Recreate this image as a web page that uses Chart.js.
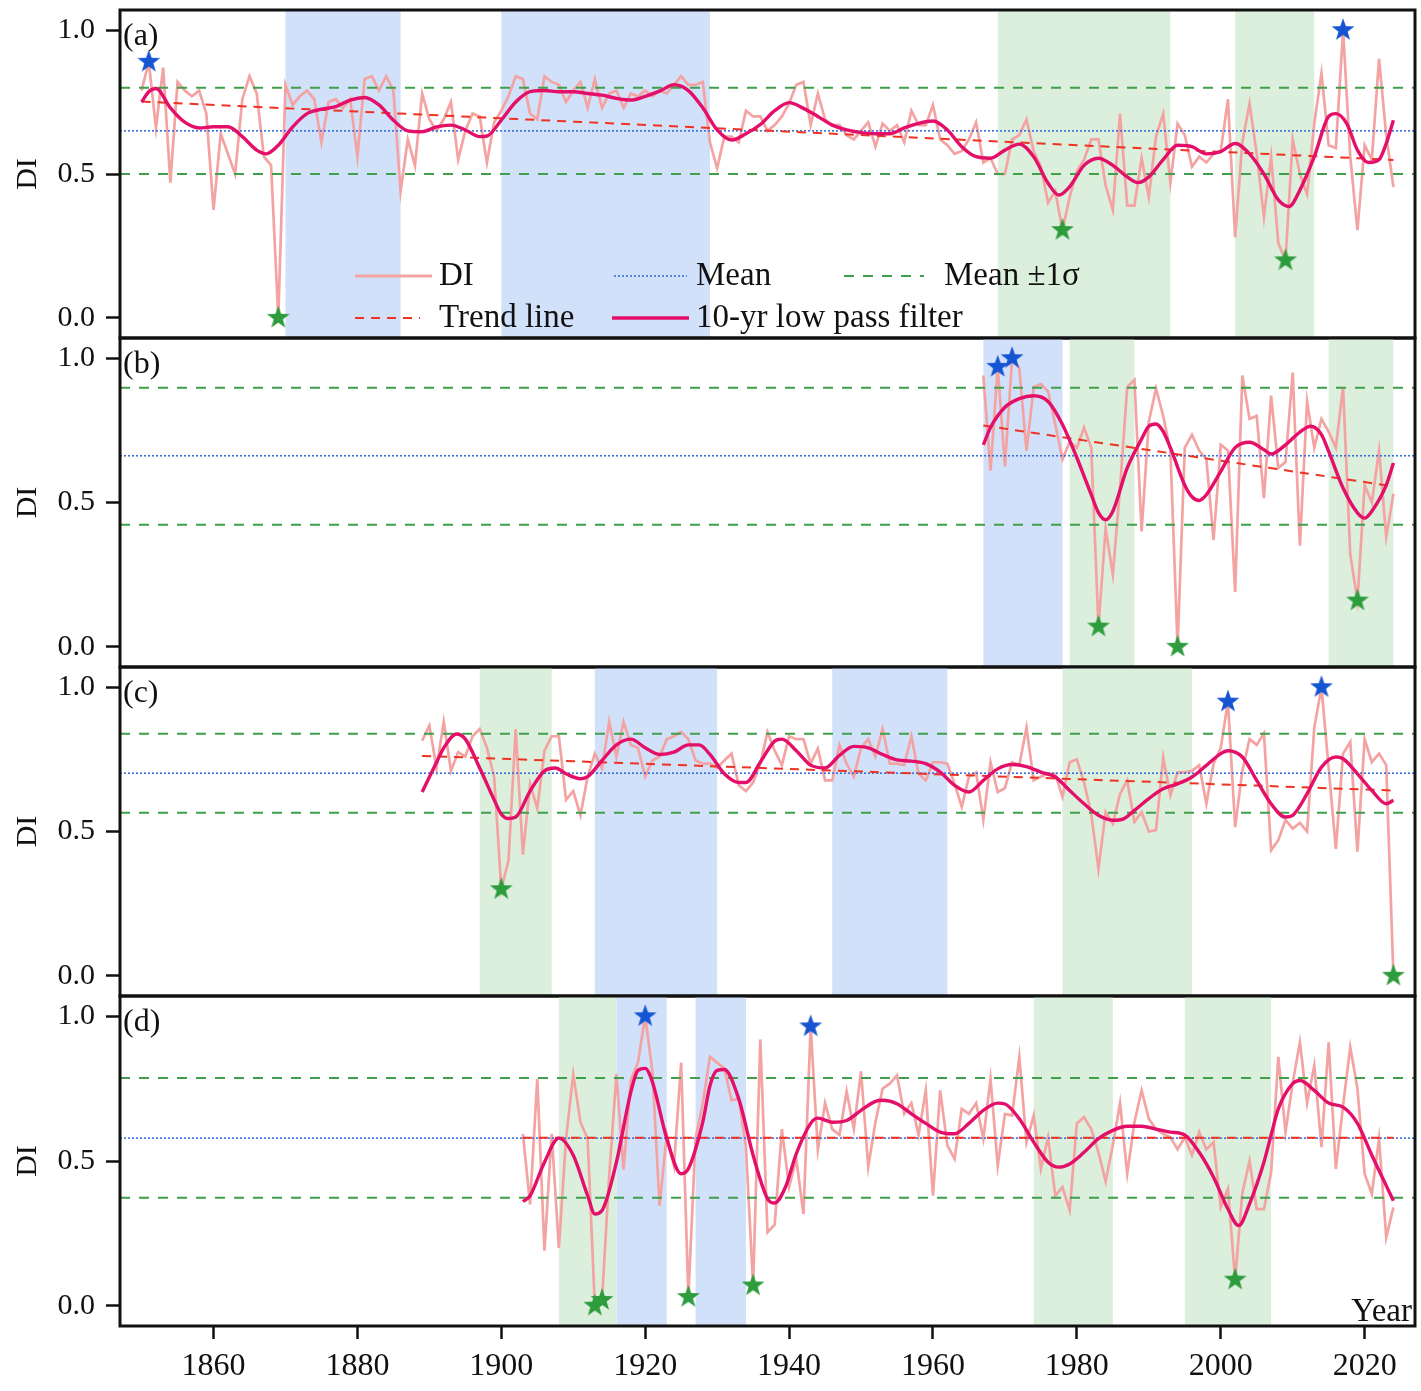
<!DOCTYPE html>
<html lang="en">
<head>
<meta charset="UTF-8">
<title>DI time series</title>
<style>
    html, body { margin: 0; padding: 0; background: #fff; }
    body { width: 1421px; height: 1391px; position: relative; overflow: hidden; }
    .panel { position: absolute; left: 0; width: 1421px; }
</style>
</head>
<body>
<div class="panel" style="top:0;height:343px"><canvas id="chartA"></canvas></div>
<div class="panel" style="top:333px;height:339px"><canvas id="chartB"></canvas></div>
<div class="panel" style="top:662px;height:339px"><canvas id="chartC"></canvas></div>
<div class="panel" style="top:991px;height:400px"><canvas id="chartD"></canvas></div>

<script src="https://cdn.jsdelivr.net/npm/chart.js"></script>
<script>
const X_MIN = 1847, X_MAX = 2027;
const xTicks = [1860, 1880, 1900, 1920, 1940, 1960, 1980, 2000, 2020];
const yTicks = [0, 0.5, 1.0];

// ---- (a) ----
const startA = 1850;
const diA = [
    0.79, 0.89, 0.66, 0.87, 0.47, 0.82, 0.79, 0.77, 0.79, 0.71,
    0.375, 0.64, 0.57, 0.50, 0.76, 0.84, 0.78, 0.56, 0.53, 0.0,
    0.81, 0.74, 0.77, 0.79, 0.76, 0.61, 0.75, 0.76, 0.73, 0.76,
    0.56, 0.83, 0.84, 0.79, 0.84, 0.79, 0.44, 0.62, 0.53, 0.78,
    0.69, 0.65, 0.69, 0.75, 0.55, 0.65, 0.71, 0.70, 0.54, 0.68,
    0.72, 0.77, 0.84, 0.83, 0.71, 0.69, 0.84, 0.82, 0.81, 0.75,
    0.79, 0.82, 0.73, 0.83, 0.73, 0.78, 0.79, 0.73, 0.78, 0.77,
    0.79, 0.77, 0.79, 0.78, 0.81, 0.84, 0.81, 0.81, 0.82, 0.61,
    0.52, 0.63, 0.63, 0.61, 0.72, 0.70, 0.70, 0.65, 0.67, 0.70,
    0.745, 0.81, 0.82, 0.67, 0.78, 0.69, 0.67, 0.67, 0.635, 0.62,
    0.65, 0.68, 0.595, 0.675, 0.65, 0.67, 0.61, 0.72, 0.67, 0.67,
    0.74, 0.62, 0.60, 0.57, 0.58, 0.62, 0.68, 0.54, 0.555, 0.50,
    0.50, 0.62, 0.635, 0.69, 0.58, 0.525, 0.40, 0.44, 0.305, 0.42,
    0.51, 0.55, 0.62, 0.62, 0.46, 0.375, 0.71, 0.39, 0.39, 0.555,
    0.42, 0.63, 0.71, 0.47, 0.675, 0.635, 0.525, 0.56, 0.54, 0.57,
    0.58, 0.76, 0.28, 0.61, 0.745, 0.57, 0.35, 0.56, 0.26, 0.20,
    0.62, 0.50, 0.43, 0.675, 0.85, 0.60, 0.59, 1.0, 0.56, 0.305,
    0.60, 0.55, 0.90, 0.635, 0.455
];
const filtYearsA = [1850, 1851, 1852, 1854, 1856, 1858, 1860, 1862, 1864, 1866, 1867.3, 1869, 1871, 1873, 1875,
    1877, 1879, 1881, 1883, 1885, 1887, 1889, 1891, 1893, 1895, 1897, 1898, 1900, 1902, 1904, 1906, 1908, 1910,
    1912, 1914, 1916, 1918, 1920, 1922, 1924, 1926, 1928, 1930, 1932, 1934, 1936, 1938, 1940, 1942, 1944, 1946,
    1948, 1950, 1952, 1954, 1956, 1958, 1960, 1962, 1964, 1966, 1968, 1970, 1972, 1974, 1976, 1977.5, 1979, 1981,
    1983, 1985, 1987, 1988.5, 1990, 1992, 1994, 1996, 1998, 2000, 2002, 2004, 2006, 2008, 2009.5, 2011, 2013,
    2015, 2016, 2017.5, 2019, 2020.5, 2022, 2023, 2024];
const filtA = [0.75, 0.786, 0.797, 0.73, 0.68, 0.66, 0.664, 0.664, 0.63, 0.583, 0.57, 0.60, 0.664, 0.71, 0.725,
    0.734, 0.757, 0.766, 0.74, 0.687, 0.65, 0.647, 0.664, 0.67, 0.653, 0.63, 0.632, 0.687, 0.75, 0.786, 0.79, 0.786, 0.786,
    0.78, 0.774, 0.763, 0.757, 0.77, 0.788, 0.81, 0.79, 0.73, 0.653, 0.618, 0.64, 0.672, 0.72, 0.748, 0.728, 0.70, 0.67,
    0.653, 0.644, 0.64, 0.64, 0.66, 0.676, 0.684, 0.653, 0.595, 0.56, 0.555, 0.583, 0.604, 0.56, 0.468, 0.427, 0.456, 0.53,
    0.555, 0.53, 0.49, 0.47, 0.49, 0.55, 0.60, 0.595, 0.57, 0.578, 0.606, 0.57, 0.50, 0.41, 0.387, 0.444, 0.56,
    0.70, 0.71, 0.676, 0.583, 0.54, 0.55, 0.606, 0.687];
const trendA = [0.752, 0.549];
const meanA = 0.65, upperA = 0.80, lowerA = 0.50;
const highPeriodsA = [[1870, 1886], [1900, 1929]];
const lowPeriodsA = [[1969, 1993], [2002, 2013]];
const maxYearsA = [1851, 2017];
const minYearsA = [1869, 1978, 2009];

// ---- (b) ----
const startB = 1967;
const diB = [
    0.94, 0.61, 0.97, 0.625, 1.0, 0.965, 0.68, 0.90, 0.91, 0.885,
    0.77, 0.65, 0.71, 0.69, 0.76, 0.69, 0.07, 0.41, 0.25, 0.55,
    0.90, 0.925, 0.40, 0.78, 0.895, 0.80, 0.68, 0.0, 0.69, 0.735,
    0.68, 0.65, 0.37, 0.70, 0.68, 0.19, 0.94, 0.79, 0.80, 0.515,
    0.87, 0.62, 0.64, 0.95, 0.35, 0.85, 0.69, 0.79, 0.745, 0.69,
    0.90, 0.32, 0.16, 0.56, 0.50, 0.68, 0.38, 0.53
];
const filtYearsB = [1967, 1968, 1970, 1972, 1974, 1976, 1978, 1980, 1982, 1983, 1984, 1985, 1987, 1989, 1990,
    1991, 1992, 1993, 1995, 1996, 1997, 1998, 2000, 2002, 2004, 2006, 2007, 2009, 2011, 2012.5, 2014, 2015,
    2017, 2019, 2020, 2021, 2023, 2024];
const filtB = [0.70, 0.76, 0.83, 0.86, 0.87, 0.85, 0.77, 0.655, 0.527, 0.465, 0.44, 0.47, 0.62, 0.72, 0.764,
    0.772, 0.746, 0.69, 0.56, 0.52, 0.507, 0.527, 0.608, 0.69, 0.709, 0.683, 0.668, 0.70, 0.744, 0.764, 0.735, 0.677,
    0.55, 0.464, 0.446, 0.47, 0.56, 0.637];
const trendB = [0.767, 0.556];
const meanB = 0.662, upperB = 0.898, lowerB = 0.423;
const highPeriodsB = [[1967, 1978]];
const lowPeriodsB = [[1979, 1988], [2015, 2024]];
const maxYearsB = [1969, 1971];
const minYearsB = [1983, 1994, 2019];

// ---- (c) ----
const startC = 1889;
const diC = [
    0.815, 0.867, 0.72, 0.88, 0.71, 0.775, 0.76, 0.83, 0.855, 0.79,
    0.69, 0.30, 0.40, 0.855, 0.42, 0.665, 0.58, 0.78, 0.83, 0.83,
    0.61, 0.64, 0.556, 0.69, 0.77, 0.72, 0.88, 0.76, 0.88, 0.80,
    0.79, 0.69, 0.746, 0.76, 0.82, 0.83, 0.845, 0.82, 0.746, 0.735,
    0.735, 0.72, 0.746, 0.77, 0.66, 0.64, 0.67, 0.735, 0.845, 0.78,
    0.73, 0.83, 0.82, 0.82, 0.735, 0.787, 0.677, 0.677, 0.80, 0.735,
    0.69, 0.79, 0.82, 0.76, 0.855, 0.735, 0.735, 0.73, 0.83, 0.70,
    0.677, 0.74, 0.74, 0.735, 0.665, 0.585, 0.69, 0.705, 0.54, 0.74,
    0.637, 0.65, 0.74, 0.73, 0.86, 0.677, 0.69, 0.70, 0.70, 0.62,
    0.74, 0.75, 0.67, 0.56, 0.37, 0.567, 0.527, 0.63, 0.677, 0.533,
    0.567, 0.50, 0.505, 0.757, 0.625, 0.705, 0.705, 0.71, 0.73, 0.596,
    0.735, 0.79, 0.95, 0.515, 0.71, 0.82, 0.80, 0.84, 0.435, 0.47,
    0.54, 0.51, 0.53, 0.50, 0.86, 1.0, 0.72, 0.44, 0.77, 0.81,
    0.43, 0.82, 0.74, 0.77, 0.73, 0.0
];
const filtYearsC = [1889, 1891, 1892, 1893.8, 1895, 1897, 1899, 1900, 1901, 1902, 1904, 1906, 1907.5, 1909, 1911,
    1912, 1914, 1916, 1918, 1920, 1922, 1924, 1926, 1927.5, 1929, 1931, 1933, 1934, 1936, 1938, 1939, 1941, 1943,
    1945, 1947, 1949, 1951, 1953, 1955, 1957, 1959, 1961, 1963, 1965, 1967, 1969, 1971, 1973, 1975, 1977, 1979,
    1981, 1983, 1985, 1986.5, 1988, 1990, 1992, 1994, 1996, 1998, 2000, 2001, 2003, 2005, 2007, 2009, 2010,
    2012, 2014, 2016, 2017, 2019, 2021, 2023, 2024];
const filtC = [0.637, 0.74, 0.79, 0.838, 0.82, 0.72, 0.61, 0.56, 0.545, 0.55, 0.64, 0.71, 0.72, 0.70, 0.683,
    0.69, 0.746, 0.80, 0.82, 0.79, 0.767, 0.775, 0.80, 0.80, 0.767, 0.70, 0.67, 0.67, 0.74, 0.813, 0.82, 0.78, 0.73,
    0.72, 0.764, 0.795, 0.79, 0.767, 0.748, 0.744, 0.735, 0.706, 0.66, 0.637, 0.677, 0.717, 0.732, 0.725, 0.706, 0.689, 0.642,
    0.596, 0.556, 0.539, 0.544, 0.573, 0.614, 0.648, 0.665, 0.689, 0.729, 0.77, 0.78, 0.758, 0.677, 0.596, 0.55, 0.556,
    0.631, 0.723, 0.758, 0.752, 0.70, 0.642, 0.596, 0.608];
const trendC = [0.762, 0.642];
const meanC = 0.702, upperC = 0.839, lowerC = 0.565;
const highPeriodsC = [[1913, 1930], [1946, 1962]];
const lowPeriodsC = [[1897, 1907], [1978, 1996]];
const maxYearsC = [2001, 2014];
const minYearsC = [1900, 2024];

// ---- (d) ----
const startD = 1903;
const diD = [
    0.594, 0.35, 0.784, 0.19, 0.594, 0.20, 0.577, 0.80, 0.634, 0.577,
    0.0, 0.02, 0.45, 0.80, 0.47, 0.78, 0.84, 1.0, 0.81, 0.346,
    0.59, 0.484, 0.84, 0.03, 0.577, 0.70, 0.86, 0.84, 0.82, 0.71,
    0.715, 0.55, 0.07, 0.92, 0.254, 0.28, 0.61, 0.41, 0.507, 0.317,
    0.965, 0.54, 0.70, 0.61, 0.59, 0.74, 0.61, 0.81, 0.48, 0.634,
    0.75, 0.767, 0.796, 0.663, 0.70, 0.59, 0.744, 0.38, 0.744, 0.554,
    0.507, 0.68, 0.663, 0.70, 0.577, 0.784, 0.484, 0.663, 0.657, 0.86,
    0.565, 0.657, 0.473, 0.582, 0.38, 0.41, 0.33, 0.63, 0.652, 0.61,
    0.53, 0.43, 0.554, 0.70, 0.456, 0.634, 0.744, 0.646, 0.61, 0.594,
    0.582, 0.54, 0.582, 0.52, 0.60, 0.54, 0.565, 0.34, 0.404, 0.09,
    0.39, 0.50, 0.334, 0.334, 0.46, 0.86, 0.60, 0.77, 0.91, 0.70,
    0.83, 0.548, 0.91, 0.473, 0.69, 0.894, 0.75, 0.456, 0.386, 0.577,
    0.236, 0.34
];
const filtYearsD = [1903, 1904, 1906, 1908, 1910, 1912, 1913, 1914, 1916, 1918, 1919, 1920, 1921, 1923, 1925,
    1926, 1928, 1929, 1930, 1931, 1933, 1935, 1937, 1938, 1939.5, 1941, 1943, 1944, 1946, 1948, 1950, 1952, 1953,
    1955, 1957, 1959, 1961, 1963, 1965, 1967, 1969, 1970, 1972, 1974, 1976, 1977.5, 1979, 1981, 1983, 1985, 1987,
    1989, 1991, 1993, 1995, 1997, 1999, 2001, 2002.5, 2004, 2006, 2007, 2008, 2010, 2011, 2013, 2015, 2017, 2019,
    2021, 2023, 2024];
const filtD = [0.36, 0.38, 0.496, 0.579, 0.52, 0.38, 0.317, 0.329, 0.496, 0.738, 0.813, 0.82, 0.773, 0.577, 0.456,
    0.473, 0.634, 0.76, 0.813, 0.816, 0.715, 0.52, 0.37, 0.355, 0.41, 0.525, 0.63, 0.648, 0.634, 0.64, 0.675, 0.706, 0.71,
    0.698, 0.663, 0.63, 0.60, 0.594, 0.63, 0.675, 0.70, 0.697, 0.646, 0.565, 0.496, 0.479, 0.49, 0.53, 0.577, 0.606, 0.62,
    0.62, 0.61, 0.60, 0.59, 0.53, 0.444, 0.334, 0.277, 0.352, 0.496, 0.59, 0.68, 0.767, 0.778, 0.744, 0.70, 0.686, 0.63,
    0.52, 0.415, 0.363];
const trendD = [0.58, 0.58];
const meanD = 0.579, upperD = 0.787, lowerD = 0.373;
const highPeriodsD = [[1916, 1923], [1927, 1934]];
const lowPeriodsD = [[1908, 1916], [1974, 1985], [1995, 2007]];
const maxYearsD = [1920, 1943];
const minYearsD = [1913, 1914, 1926, 1935, 2002];

const SERIF = "'Liberation Serif', 'Times New Roman', serif";
Chart.defaults.font.family = SERIF;
Chart.defaults.color = '#000';

const DI_COLOR = '#f4a3a3';
const FILT_COLOR = '#e30f68';
const TREND_COLOR = '#ee3322';
const MEAN_COLOR = '#3a6fd8';
const SIGMA_COLOR = '#3f9f4a';

function starImage(color) {
    const c = document.createElement('canvas');
    c.width = 26; c.height = 26;
    const g = c.getContext('2d');
    g.beginPath();
    for (let i = 0; i < 10; i++) {
        const r = i % 2 ? 4.8 : 12;
        const a = -Math.PI / 2 + i * Math.PI / 5;
        g.lineTo(13 + r * Math.cos(a), 13 + r * Math.sin(a));
    }
    g.closePath();
    g.fillStyle = color;
    g.fill();
    return c;
}
const blueStar = starImage('#1554d2');
const greenStar = starImage('#2c9c3c');

// shaded periods behind the curves
const bandsPlugin = {
    id: 'bands',
    beforeDatasetsDraw(chart, args, opts) {
        const {ctx, chartArea: a, scales: {x}} = chart;
        ctx.save();
        const fill = (list, color) => list.forEach(([s, e]) => {
            const x0 = x.getPixelForValue(s), x1 = x.getPixelForValue(e);
            ctx.fillStyle = color;
            ctx.fillRect(x0, a.top, x1 - x0, a.bottom - a.top);
        });
        fill(opts.high, '#d2e1fa');
        fill(opts.low, '#dcefdc');
        ctx.restore();
    }
};

function legendLine(ctx, x0, x1, y, color, width, dash) {
    ctx.beginPath();
    ctx.setLineDash(dash);
    ctx.strokeStyle = color;
    ctx.lineWidth = width;
    ctx.moveTo(x0, y);
    ctx.lineTo(x1, y);
    ctx.stroke();
    ctx.setLineDash([]);
}

// frame, panel letter, legend and "Year"
const framePlugin = {
    id: 'frame',
    afterDraw(chart, args, opts) {
        const {ctx, chartArea: a} = chart;
        ctx.save();
        ctx.strokeStyle = '#111';
        ctx.lineWidth = 3;
        ctx.strokeRect(a.left, a.top, a.right - a.left, a.bottom - a.top);

        ctx.fillStyle = '#111';
        ctx.font = '32px ' + SERIF;
        ctx.textBaseline = 'middle';
        ctx.textAlign = 'left';
        ctx.fillText(opts.label, a.left + 3, a.top + 27);

        if (opts.legend) {
            ctx.font = '33px ' + SERIF;
            legendLine(ctx, 355, 432, 276, DI_COLOR, 2.8, []);
            ctx.fillText('DI', 439, 276);
            legendLine(ctx, 614, 687, 276, MEAN_COLOR, 1.6, [2, 2]);
            ctx.fillText('Mean', 696, 276);
            legendLine(ctx, 844, 924, 276, SIGMA_COLOR, 2, [10, 9]);
            ctx.fillText('Mean \u00b11\u03c3', 944, 276);
            legendLine(ctx, 355, 420, 318, TREND_COLOR, 2, [9, 7]);
            ctx.fillText('Trend line', 439, 318);
            legendLine(ctx, 612, 689, 318, FILT_COLOR, 3.4, []);
            ctx.fillText('10-yr low pass filter', 696, 318);
        }
        if (opts.year) {
            ctx.font = '33px ' + SERIF;
            ctx.textAlign = 'right';
            ctx.textBaseline = 'alphabetic';
            ctx.fillText('Year', a.right - 3, a.bottom - 5);
        }
        ctx.restore();
    }
};

function makePanel(id, p) {
    const endYear = p.start + p.di.length - 1;
    const diPts = p.di.map((v, i) => ({x: p.start + i, y: v}));
    const filtPts = p.filtYears.map((yr, i) => ({x: yr, y: p.filt[i]}));
    const trendPts = [{x: p.start, y: p.trend[0]}, {x: endYear, y: p.trend[1]}];
    const hline = v => [{x: X_MIN, y: v}, {x: X_MAX, y: v}];
    const starPts = yrs => yrs.map(yr => ({x: yr, y: p.di[yr - p.start]}));
    const plain = {pointRadius: 0, pointHoverRadius: 0, fill: false};

    new Chart(document.getElementById(id), {
        type: 'line',
        data: {
            datasets: [
                {data: starPts(p.maxYears), showLine: false, pointStyle: blueStar, pointRadius: 12, order: 0},
                {data: starPts(p.minYears), showLine: false, pointStyle: greenStar, pointRadius: 12, order: 0},
                {data: filtPts, borderColor: FILT_COLOR, borderWidth: 3.4, cubicInterpolationMode: 'monotone', order: 1, ...plain},
                {data: trendPts, borderColor: TREND_COLOR, borderWidth: 2, borderDash: [9, 7], order: 2, ...plain},
                {data: hline(p.mean), borderColor: MEAN_COLOR, borderWidth: 1.6, borderDash: [2, 2], order: 3, ...plain},
                {data: hline(p.upper), borderColor: SIGMA_COLOR, borderWidth: 2, borderDash: [10, 9], order: 4, ...plain},
                {data: hline(p.lower), borderColor: SIGMA_COLOR, borderWidth: 2, borderDash: [10, 9], order: 4, ...plain},
                {data: diPts, borderColor: DI_COLOR, borderWidth: 2.7, tension: 0, order: 5, ...plain}
            ]
        },
        options: {
            responsive: true,
            maintainAspectRatio: false,
            animation: false,
            events: [],
            layout: {autoPadding: false, padding: {top: p.padTop, bottom: p.padBottom, left: 0, right: 6}},
            plugins: {
                legend: {display: false},
                tooltip: {enabled: false},
                bands: {high: p.high, low: p.low},
                frame: {label: p.label, legend: p.legend, year: p.showX}
            },
            scales: {
                x: {
                    type: 'linear',
                    min: X_MIN,
                    max: X_MAX,
                    display: p.showX,
                    afterBuildTicks: s => { s.ticks = xTicks.map(v => ({value: v})); },
                    afterFit: s => {
                        if (p.showX) s.height = 65;
                        s.paddingLeft = 0; s.paddingRight = 0;
                    },
                    ticks: {callback: v => String(v), font: {size: 32}, color: '#111', padding: 8, maxRotation: 0, autoSkip: false},
                    grid: {drawOnChartArea: false, tickLength: 13, tickWidth: 2.5, tickColor: '#111'},
                    border: {display: false}
                },
                y: {
                    min: -0.07,
                    max: 1.07,
                    afterBuildTicks: s => { s.ticks = yTicks.map(v => ({value: v})); },
                    afterFit: s => { s.width = 120; s.paddingTop = 0; s.paddingBottom = 0; },
                    ticks: {callback: v => v.toFixed(1), font: {size: 30}, color: '#111', padding: 11},
                    grid: {drawOnChartArea: false, tickLength: 14, tickWidth: 2.5, tickColor: '#111'},
                    border: {display: false},
                    title: {display: true, text: 'DI', font: {size: 30}, color: '#111', padding: {top: 10, bottom: 0}}
                }
            }
        },
        plugins: [bandsPlugin, framePlugin]
    });
}

makePanel('chartA', {label: '(a)', start: startA, di: diA, filtYears: filtYearsA, filt: filtA, trend: trendA,
    mean: meanA, upper: upperA, lower: lowerA, high: highPeriodsA, low: lowPeriodsA,
    maxYears: maxYearsA, minYears: minYearsA, legend: true, showX: false, padTop: 10, padBottom: 5});
makePanel('chartB', {label: '(b)', start: startB, di: diB, filtYears: filtYearsB, filt: filtB, trend: trendB,
    mean: meanB, upper: upperB, lower: lowerB, high: highPeriodsB, low: lowPeriodsB,
    maxYears: maxYearsB, minYears: minYearsB, legend: false, showX: false, padTop: 5, padBottom: 5});
makePanel('chartC', {label: '(c)', start: startC, di: diC, filtYears: filtYearsC, filt: filtC, trend: trendC,
    mean: meanC, upper: upperC, lower: lowerC, high: highPeriodsC, low: lowPeriodsC,
    maxYears: maxYearsC, minYears: minYearsC, legend: false, showX: false, padTop: 5, padBottom: 5});
makePanel('chartD', {label: '(d)', start: startD, di: diD, filtYears: filtYearsD, filt: filtD, trend: trendD,
    mean: meanD, upper: upperD, lower: lowerD, high: highPeriodsD, low: lowPeriodsD,
    maxYears: maxYearsD, minYears: minYearsD, legend: false, showX: true, padTop: 5, padBottom: 0});
</script>
</body>
</html>
